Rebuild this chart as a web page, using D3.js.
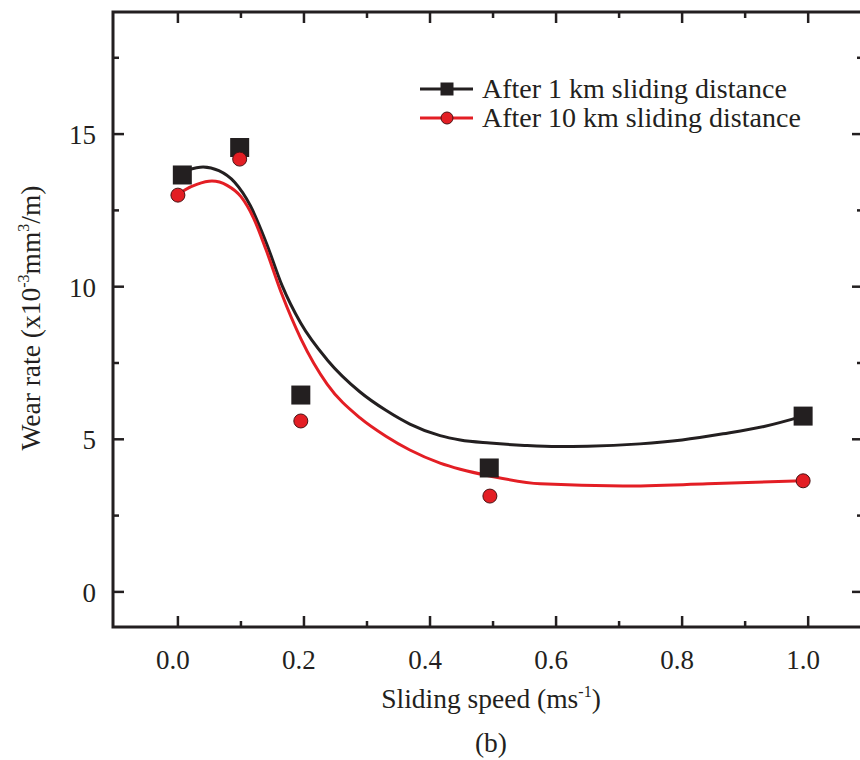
<!DOCTYPE html>
<html>
<head>
<meta charset="utf-8">
<script src="https://cdn.jsdelivr.net/npm/d3@7"></script>
<style>
  html, body { margin: 0; padding: 0; background: #fff; }
  svg { display: block; }
  text { font-family: "Liberation Serif", "Times New Roman", serif; fill: #231f20; }
</style>
</head>
<body>
<svg id="chart" width="860" height="760"></svg>
<script>
// Measured wear rates (x10^-3 mm^3/m) versus sliding speed (m/s)
const speed1km = [0.007, 0.098, 0.195, 0.494, 0.992];
const wear1km  = [13.66, 14.56, 6.45, 4.06, 5.76];
const speed10km = [0.0, 0.098, 0.195, 0.495, 0.992];
const wear10km  = [13.0, 14.18, 5.6, 3.14, 3.64];

// Smoothed fit curves through each series
const fit1kmX = [0.015, 0.040, 0.065, 0.090, 0.115, 0.140, 0.165, 0.195, 0.237, 0.289, 0.330, 0.368, 0.416, 0.448, 0.495, 0.550, 0.602, 0.650, 0.733, 0.800, 0.865, 0.930, 0.992];
const fit1kmY = [13.82, 13.92, 13.80, 13.42, 12.65, 11.45, 10.05, 8.80, 7.60, 6.55, 5.95, 5.50, 5.12, 4.98, 4.88, 4.80, 4.76, 4.77, 4.85, 4.98, 5.18, 5.42, 5.76];
const fit10kmX = [0.0, 0.011, 0.030, 0.054, 0.078, 0.100, 0.120, 0.140, 0.165, 0.195, 0.237, 0.289, 0.330, 0.368, 0.416, 0.448, 0.495, 0.575, 0.706, 0.840, 0.992];
const fit10kmY = [13.0, 13.17, 13.35, 13.46, 13.32, 12.95, 12.25, 11.20, 9.75, 8.30, 6.80, 5.70, 5.10, 4.65, 4.22, 4.02, 3.80, 3.54, 3.47, 3.54, 3.64];

// Axis ticks
const xMajor = [0.0, 0.2, 0.4, 0.6, 0.8, 1.0];
const xMinor = [0.1, 0.3, 0.5, 0.7, 0.9];
const yMajor = [0, 5, 10, 15];
const yMinor = [2.5, 7.5, 12.5, 17.5];

const seriesNames = ["After 1 km sliding distance", "After 10 km sliding distance"];

const INK = "#231f20";
const RED = "#e31e24";

const svg = d3.select("#chart");
const frame = { left: 113, right: 863, top: 12, bottom: 627 };

const x = d3.scaleLinear().domain([-0.103, 1.087]).range([frame.left, frame.right]);
const y = d3.scaleLinear().domain([-1.15, 19.0]).range([frame.bottom, frame.top]);

const majorLen = 11, minorLen = 6;

// Ticks on all four sides, pointing inward
const ticks = svg.append("g").attr("stroke", INK).attr("stroke-width", 2.5);
function xTicks(vals, len) {
  vals.forEach(v => {
    ticks.append("line").attr("x1", x(v)).attr("x2", x(v)).attr("y1", frame.bottom).attr("y2", frame.bottom - len);
    ticks.append("line").attr("x1", x(v)).attr("x2", x(v)).attr("y1", frame.top).attr("y2", frame.top + len);
  });
}
function yTicks(vals, len) {
  vals.forEach(v => {
    ticks.append("line").attr("y1", y(v)).attr("y2", y(v)).attr("x1", frame.left).attr("x2", frame.left + len);
    ticks.append("line").attr("y1", y(v)).attr("y2", y(v)).attr("x1", frame.right).attr("x2", frame.right - len);
  });
}
xTicks(xMajor, majorLen); xTicks(xMinor, minorLen);
yTicks(yMajor, majorLen); yTicks(yMinor, minorLen);

// Frame
svg.append("rect")
  .attr("x", frame.left).attr("y", frame.top)
  .attr("width", frame.right - frame.left).attr("height", frame.bottom - frame.top)
  .attr("fill", "none").attr("stroke", INK).attr("stroke-width", 3);

// Tick labels
svg.append("g").selectAll("text").data(xMajor).join("text")
  .attr("x", d => x(d) - 5).attr("y", 669)
  .attr("text-anchor", "middle").attr("font-size", 27)
  .text(d => d3.format(".1f")(d));
svg.append("g").selectAll("text").data(yMajor).join("text")
  .attr("x", 96).attr("y", d => y(d) + 10)
  .attr("text-anchor", "end").attr("font-size", 27)
  .text(d => d);

// Axis titles
const xt = svg.append("text").attr("x", 491).attr("y", 708).attr("text-anchor", "middle").attr("font-size", 27.5);
xt.append("tspan").text("Sliding speed (ms");
xt.append("tspan").attr("font-size", 16).attr("dy", -11).text("-1");
xt.append("tspan").attr("dy", 11).text(")");

svg.append("text").attr("x", 491).attr("y", 752).attr("text-anchor", "middle").attr("font-size", 27.5).text("(b)");

const yt = svg.append("text").attr("transform", "translate(40,318) rotate(-90)")
  .attr("text-anchor", "middle").attr("font-size", 27.5);
yt.append("tspan").text("Wear rate (x10");
yt.append("tspan").attr("font-size", 16).attr("dy", -11).text("-3");
yt.append("tspan").attr("dy", 11).text("mm");
yt.append("tspan").attr("font-size", 16).attr("dy", -11).text("3");
yt.append("tspan").attr("dy", 11).text("/m)");

// Fit curves
const line = d3.line().x(d => x(d[0])).y(d => y(d[1])).curve(d3.curveMonotoneX);
svg.append("path").datum(d3.zip(fit1kmX, fit1kmY)).attr("d", line)
  .attr("fill", "none").attr("stroke", INK).attr("stroke-width", 3);
svg.append("path").datum(d3.zip(fit10kmX, fit10kmY)).attr("d", line)
  .attr("fill", "none").attr("stroke", RED).attr("stroke-width", 3);

// Markers
const sq = 19;
svg.append("g").selectAll("rect").data(d3.zip(speed1km, wear1km)).join("rect")
  .attr("x", d => x(d[0]) - sq / 2).attr("y", d => y(d[1]) - sq / 2)
  .attr("width", sq).attr("height", sq).attr("fill", INK);
svg.append("g").selectAll("circle").data(d3.zip(speed10km, wear10km)).join("circle")
  .attr("cx", d => x(d[0])).attr("cy", d => y(d[1])).attr("r", 7)
  .attr("fill", RED).attr("stroke", "#4a1214").attr("stroke-width", 1);

// Legend
const legend = svg.append("g");
const legendRows = [
  { name: seriesNames[0], color: INK, shape: "square", y: 89 },
  { name: seriesNames[1], color: RED, shape: "circle", y: 118 }
];
legendRows.forEach(r => {
  legend.append("line").attr("x1", 420).attr("x2", 473).attr("y1", r.y).attr("y2", r.y)
    .attr("stroke", r.color).attr("stroke-width", 3);
  if (r.shape === "square") {
    legend.append("rect").attr("x", 447 - 6.5).attr("y", r.y - 6.5).attr("width", 13).attr("height", 13).attr("fill", r.color);
  } else {
    legend.append("circle").attr("cx", 447).attr("cy", r.y).attr("r", 6)
      .attr("fill", r.color).attr("stroke", "#4a1214").attr("stroke-width", 1);
  }
  legend.append("text").attr("x", 482).attr("y", r.y + 9).attr("font-size", 28).text(r.name);
});
</script>
</body>
</html>
